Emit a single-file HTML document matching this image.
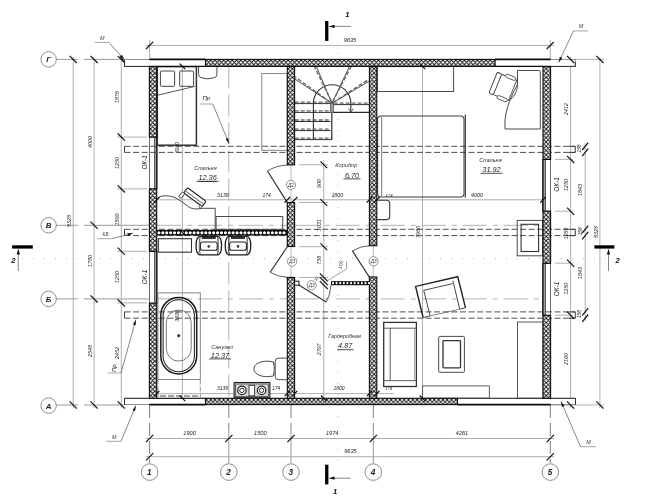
<!DOCTYPE html>
<html><head><meta charset="utf-8"><title>Plan</title>
<style>
html,body{margin:0;padding:0;background:#fff;}
body{width:669px;height:502px;overflow:hidden;font-family:"Liberation Sans",sans-serif;}
svg{display:block;font-family:"Liberation Sans",sans-serif;}
</style></head><body>
<svg width="669" height="502" viewBox="0 0 669 502" style="filter:grayscale(1)">
<defs>
<pattern id="h" width="4.3" height="4.3" patternUnits="userSpaceOnUse">
<rect width="4.3" height="4.3" fill="#fff"/>
<path d="M-1,-1 L5.3,5.3 M5.3,-1 L-1,5.3 M-1,3.3 L1,5.3 M3.3,-1 L5.3,1 M-1,1 L1,-1 M3.3,5.3 L5.3,3.3" stroke="#111" stroke-width="0.95" fill="none"/>
</pattern>
<pattern id="h2" width="3.2" height="3.2" patternUnits="userSpaceOnUse">
<rect width="3.2" height="3.2" fill="#fff"/>
<path d="M-1,-1 L4.2,4.2 M4.2,-1 L-1,4.2" stroke="#111" stroke-width="1.0" fill="none"/>
</pattern>
</defs>
<rect width="669" height="502" fill="#fff"/>
<line x1="56.00" y1="59.40" x2="78.00" y2="59.40" stroke="#808080" stroke-width="0.8" />
<line x1="56.00" y1="225.30" x2="78.00" y2="225.30" stroke="#808080" stroke-width="0.8" />
<line x1="56.00" y1="298.90" x2="78.00" y2="298.90" stroke="#808080" stroke-width="0.8" />
<line x1="56.00" y1="405.00" x2="78.00" y2="405.00" stroke="#808080" stroke-width="0.8" />
<line x1="84.00" y1="59.40" x2="124.00" y2="59.40" stroke="#808080" stroke-width="0.8" />
<line x1="84.00" y1="405.00" x2="124.50" y2="405.00" stroke="#808080" stroke-width="0.8" />
<line x1="84.00" y1="225.30" x2="149.00" y2="225.30" stroke="#808080" stroke-width="0.8" />
<line x1="157.00" y1="225.30" x2="287.30" y2="225.30" stroke="#aaaaaa" stroke-width="0.9" stroke-dasharray="24 6 5 6"/>
<line x1="294.60" y1="225.30" x2="369.40" y2="225.30" stroke="#aaaaaa" stroke-width="0.9" stroke-dasharray="24 6 5 6"/>
<line x1="380.80" y1="225.30" x2="543.00" y2="225.30" stroke="#aaaaaa" stroke-width="0.9" stroke-dasharray="24 6 5 6"/>
<line x1="84.00" y1="298.90" x2="149.00" y2="298.90" stroke="#808080" stroke-width="0.8" />
<line x1="157.00" y1="298.90" x2="287.30" y2="298.90" stroke="#aaaaaa" stroke-width="0.9" stroke-dasharray="24 6 5 6"/>
<line x1="294.60" y1="298.90" x2="369.40" y2="298.90" stroke="#aaaaaa" stroke-width="0.9" stroke-dasharray="24 6 5 6"/>
<line x1="380.80" y1="298.90" x2="543.00" y2="298.90" stroke="#aaaaaa" stroke-width="0.9" stroke-dasharray="24 6 5 6"/>
<line x1="149.60" y1="405.00" x2="149.60" y2="463.00" stroke="#808080" stroke-width="1.0" stroke-dasharray="13 5"/>
<line x1="149.60" y1="40.00" x2="149.60" y2="59.00" stroke="#a6a6a6" stroke-width="0.9" />
<line x1="550.30" y1="405.00" x2="550.30" y2="463.00" stroke="#808080" stroke-width="1.0" stroke-dasharray="13 5"/>
<line x1="550.30" y1="40.00" x2="550.30" y2="59.00" stroke="#a6a6a6" stroke-width="0.9" />
<line x1="228.80" y1="66.40" x2="228.80" y2="398.00" stroke="#aaaaaa" stroke-width="0.9" stroke-dasharray="22 6"/>
<line x1="228.80" y1="405.00" x2="228.80" y2="430.00" stroke="#808080" stroke-width="1.0" stroke-dasharray="13 5"/>
<line x1="228.80" y1="430.00" x2="228.80" y2="463.00" stroke="#808080" stroke-width="0.8" />
<line x1="291.00" y1="405.00" x2="291.00" y2="430.00" stroke="#808080" stroke-width="1.0" stroke-dasharray="13 5"/>
<line x1="291.00" y1="430.00" x2="291.00" y2="463.00" stroke="#808080" stroke-width="0.8" />
<line x1="291.00" y1="246.00" x2="291.00" y2="278.00" stroke="#aaaaaa" stroke-width="0.8" />
<line x1="373.30" y1="405.00" x2="373.30" y2="430.00" stroke="#808080" stroke-width="1.0" stroke-dasharray="13 5"/>
<line x1="373.30" y1="430.00" x2="373.30" y2="463.00" stroke="#808080" stroke-width="0.8" />
<line x1="373.30" y1="246.00" x2="373.30" y2="278.00" stroke="#aaaaaa" stroke-width="0.8" />
<line x1="291.00" y1="166.00" x2="291.00" y2="202.00" stroke="#aaaaaa" stroke-width="0.8" />
<line x1="22.00" y1="258.60" x2="606.00" y2="258.60" stroke="#b8b8b8" stroke-width="1.0" stroke-dasharray="1 10"/>
<line x1="338.30" y1="42.00" x2="338.30" y2="470.00" stroke="#c4c4c4" stroke-width="1.0" stroke-dasharray="1 10"/>
<line x1="73.20" y1="57.00" x2="73.20" y2="408.00" stroke="#a6a6a6" stroke-width="0.9" />
<line x1="94.10" y1="57.00" x2="94.10" y2="408.00" stroke="#a6a6a6" stroke-width="0.9" />
<line x1="121.30" y1="57.00" x2="121.30" y2="408.00" stroke="#a6a6a6" stroke-width="0.9" />
<line x1="117.00" y1="137.10" x2="147.00" y2="137.10" stroke="#a6a6a6" stroke-width="0.9" />
<line x1="117.00" y1="188.90" x2="147.00" y2="188.90" stroke="#a6a6a6" stroke-width="0.9" />
<line x1="117.00" y1="251.30" x2="147.00" y2="251.30" stroke="#a6a6a6" stroke-width="0.9" />
<line x1="117.00" y1="302.90" x2="147.00" y2="302.90" stroke="#a6a6a6" stroke-width="0.9" />
<line x1="570.60" y1="57.00" x2="570.60" y2="408.00" stroke="#a6a6a6" stroke-width="0.9" />
<line x1="599.90" y1="57.00" x2="599.90" y2="408.00" stroke="#a6a6a6" stroke-width="0.9" />
<line x1="585.20" y1="143.00" x2="585.20" y2="321.00" stroke="#a6a6a6" stroke-width="0.9" />
<line x1="575.00" y1="59.40" x2="604.00" y2="59.40" stroke="#a6a6a6" stroke-width="0.9" />
<line x1="551.00" y1="405.00" x2="604.00" y2="405.00" stroke="#a6a6a6" stroke-width="0.9" />
<line x1="555.00" y1="159.40" x2="573.00" y2="159.40" stroke="#a6a6a6" stroke-width="0.9" />
<line x1="555.00" y1="211.20" x2="573.00" y2="211.20" stroke="#a6a6a6" stroke-width="0.9" />
<line x1="555.00" y1="263.20" x2="573.00" y2="263.20" stroke="#a6a6a6" stroke-width="0.9" />
<line x1="555.00" y1="315.20" x2="573.00" y2="315.20" stroke="#a6a6a6" stroke-width="0.9" />
<line x1="146.00" y1="45.40" x2="554.00" y2="45.40" stroke="#a6a6a6" stroke-width="0.9" />
<line x1="146.00" y1="438.50" x2="554.00" y2="438.50" stroke="#a6a6a6" stroke-width="0.9" />
<line x1="146.00" y1="456.70" x2="554.00" y2="456.70" stroke="#a6a6a6" stroke-width="0.9" />
<line x1="182.40" y1="66.40" x2="182.40" y2="398.30" stroke="#a6a6a6" stroke-width="0.9" />
<line x1="422.50" y1="66.40" x2="422.50" y2="398.30" stroke="#a6a6a6" stroke-width="0.9" />
<line x1="323.80" y1="160.00" x2="323.80" y2="398.30" stroke="#a6a6a6" stroke-width="0.9" />
<line x1="156.70" y1="199.80" x2="543.00" y2="199.80" stroke="#a6a6a6" stroke-width="0.9" />
<line x1="156.70" y1="393.60" x2="394.00" y2="393.60" stroke="#a6a6a6" stroke-width="0.9" />
<line x1="299.00" y1="164.80" x2="328.00" y2="164.80" stroke="#a6a6a6" stroke-width="0.9" />
<line x1="299.00" y1="202.50" x2="328.00" y2="202.50" stroke="#a6a6a6" stroke-width="0.9" />
<line x1="299.00" y1="246.70" x2="328.00" y2="246.70" stroke="#a6a6a6" stroke-width="0.9" />
<line x1="299.00" y1="277.40" x2="328.00" y2="277.40" stroke="#a6a6a6" stroke-width="0.9" />
<rect x="149.40" y="137.10" width="7.30" height="51.80" stroke="#444" stroke-width="0.8" fill="#fff" />
<rect x="154.50" y="137.10" width="2.20" height="51.80" stroke="#444" stroke-width="0.8" fill="#9a9a9a" />
<line x1="156.90" y1="137.10" x2="156.90" y2="188.90" stroke="#111" stroke-width="1.2" />
<rect x="149.40" y="251.40" width="7.30" height="51.80" stroke="#444" stroke-width="0.8" fill="#fff" />
<rect x="154.50" y="251.40" width="2.20" height="51.80" stroke="#444" stroke-width="0.8" fill="#9a9a9a" />
<line x1="156.90" y1="251.40" x2="156.90" y2="303.20" stroke="#111" stroke-width="1.2" />
<rect x="543.00" y="159.40" width="7.60" height="51.80" stroke="#444" stroke-width="0.8" fill="#fff" />
<rect x="543.00" y="159.40" width="2.60" height="51.80" stroke="#444" stroke-width="0.8" fill="#9a9a9a" />
<line x1="542.80" y1="159.40" x2="542.80" y2="211.20" stroke="#111" stroke-width="1.2" />
<rect x="543.00" y="263.30" width="7.60" height="52.00" stroke="#444" stroke-width="0.8" fill="#fff" />
<rect x="543.00" y="263.30" width="2.60" height="52.00" stroke="#444" stroke-width="0.8" fill="#9a9a9a" />
<line x1="542.80" y1="263.30" x2="542.80" y2="315.30" stroke="#111" stroke-width="1.2" />
<line x1="124.50" y1="146.30" x2="575.30" y2="146.30" stroke="#505050" stroke-width="1.0" stroke-dasharray="6 2.6"/>
<line x1="124.50" y1="152.40" x2="575.30" y2="152.40" stroke="#505050" stroke-width="1.0" stroke-dasharray="6 2.6"/>
<line x1="124.50" y1="146.30" x2="124.50" y2="152.40" stroke="#3c3c3c" stroke-width="1.0" />
<line x1="575.30" y1="146.30" x2="575.30" y2="152.40" stroke="#3c3c3c" stroke-width="1.0" />
<line x1="569.00" y1="146.30" x2="575.30" y2="146.30" stroke="#3c3c3c" stroke-width="1.0" />
<line x1="569.00" y1="152.40" x2="575.30" y2="152.40" stroke="#3c3c3c" stroke-width="1.0" />
<line x1="124.50" y1="229.30" x2="575.30" y2="229.30" stroke="#505050" stroke-width="1.0" stroke-dasharray="6 2.6"/>
<line x1="124.50" y1="235.60" x2="575.30" y2="235.60" stroke="#505050" stroke-width="1.0" stroke-dasharray="6 2.6"/>
<line x1="124.50" y1="229.30" x2="124.50" y2="235.60" stroke="#3c3c3c" stroke-width="1.0" />
<line x1="575.30" y1="229.30" x2="575.30" y2="235.60" stroke="#3c3c3c" stroke-width="1.0" />
<line x1="569.00" y1="229.30" x2="575.30" y2="229.30" stroke="#3c3c3c" stroke-width="1.0" />
<line x1="569.00" y1="235.60" x2="575.30" y2="235.60" stroke="#3c3c3c" stroke-width="1.0" />
<line x1="124.50" y1="311.90" x2="575.30" y2="311.90" stroke="#505050" stroke-width="1.0" stroke-dasharray="6 2.6"/>
<line x1="124.50" y1="318.20" x2="575.30" y2="318.20" stroke="#505050" stroke-width="1.0" stroke-dasharray="6 2.6"/>
<line x1="124.50" y1="311.90" x2="124.50" y2="318.20" stroke="#3c3c3c" stroke-width="1.0" />
<line x1="575.30" y1="311.90" x2="575.30" y2="318.20" stroke="#3c3c3c" stroke-width="1.0" />
<line x1="569.00" y1="311.90" x2="575.30" y2="311.90" stroke="#3c3c3c" stroke-width="1.0" />
<line x1="569.00" y1="318.20" x2="575.30" y2="318.20" stroke="#3c3c3c" stroke-width="1.0" />
<rect x="157.30" y="66.60" width="39.10" height="78.60" stroke="#333" stroke-width="1.5" fill="none" />
<rect x="160.40" y="71.00" width="14.20" height="15.30" stroke="#444" stroke-width="1.0" fill="none" rx="1"/>
<rect x="179.70" y="71.00" width="13.90" height="15.30" stroke="#444" stroke-width="1.0" fill="none" rx="1"/>
<line x1="157.70" y1="95.20" x2="194.80" y2="86.40" stroke="#444" stroke-width="0.9" />
<path d="M198.6,67 V74.5 Q198.6,77 201,77.6 Q207.7,80.2 214.5,77.6 Q216.9,77 216.9,74.5 V67" stroke="#4a4a4a" stroke-width="1.0" fill="none" />
<rect x="261.80" y="73.60" width="25.50" height="76.70" stroke="#7a7a7a" stroke-width="0.9" fill="none" />
<path d="M157.0,199.4 L159.7,196.6 C163,195.4 170,195.6 174,197.2 C180,199.8 184,203.5 188.5,206.7 C191,208.4 194,209.2 198,208.9 L202.1,208.3 H215.2 V229.4" stroke="#4a4a4a" stroke-width="1.0" fill="none" />
<g transform="translate(194.9,197.1) rotate(36.3)">
<rect x="-11.50" y="-3.20" width="23.00" height="6.40" stroke="#2a2a2a" stroke-width="1.2" fill="#fff" rx="1.4"/>
<line x1="-10.50" y1="0.60" x2="11.50" y2="0.60" stroke="#444" stroke-width="0.8" />
<rect x="-13.40" y="3.20" width="3.20" height="6.20" stroke="#333" stroke-width="0.9" fill="#fff" rx="1.0"/>
<rect x="9.00" y="3.20" width="2.20" height="2.40" stroke="#333" stroke-width="0.8" fill="#fff" rx="0.8"/>
</g>
<rect x="216.10" y="216.50" width="66.60" height="12.90" stroke="#4a4a4a" stroke-width="1.0" fill="none" />
<rect x="158.30" y="238.70" width="33.20" height="13.50" stroke="#333" stroke-width="1.1" fill="none" />
<path d="M199.80,236.30 H217.80 C222.80,237.30 222.80,253.90 217.80,254.90 H199.80 C194.80,253.90 194.80,237.30 199.80,236.30 Z" stroke="#1a1a1a" stroke-width="1.3" fill="none" />
<path d="M200.30,236.30 C198.80,242.60 198.80,248.60 200.30,254.90" stroke="#333" stroke-width="0.8" fill="none" />
<path d="M217.30,236.30 C218.80,242.60 218.80,248.60 217.30,254.90" stroke="#333" stroke-width="0.8" fill="none" />
<rect x="200.40" y="242.00" width="16.80" height="8.20" stroke="#222" stroke-width="1.1" fill="none" rx="2"/>
<line x1="201.80" y1="238.00" x2="215.80" y2="238.00" stroke="#111" stroke-width="1.7" />
<line x1="200.40" y1="241.30" x2="198.30" y2="237.60" stroke="#444" stroke-width="0.6" />
<line x1="217.20" y1="241.30" x2="219.30" y2="237.60" stroke="#444" stroke-width="0.6" />
<line x1="200.40" y1="249.60" x2="198.30" y2="253.10" stroke="#444" stroke-width="0.6" />
<line x1="217.20" y1="249.60" x2="219.30" y2="253.10" stroke="#444" stroke-width="0.6" />
<circle cx="208.80" cy="246.40" r="1.1" stroke="#333" stroke-width="0.6" fill="#444"/>
<path d="M229.00,236.30 H247.00 C252.00,237.30 252.00,253.90 247.00,254.90 H229.00 C224.00,253.90 224.00,237.30 229.00,236.30 Z" stroke="#1a1a1a" stroke-width="1.3" fill="none" />
<path d="M229.50,236.30 C228.00,242.60 228.00,248.60 229.50,254.90" stroke="#333" stroke-width="0.8" fill="none" />
<path d="M246.50,236.30 C248.00,242.60 248.00,248.60 246.50,254.90" stroke="#333" stroke-width="0.8" fill="none" />
<rect x="229.60" y="242.00" width="16.80" height="8.20" stroke="#222" stroke-width="1.1" fill="none" rx="2"/>
<line x1="231.00" y1="238.00" x2="245.00" y2="238.00" stroke="#111" stroke-width="1.7" />
<line x1="229.60" y1="241.30" x2="227.50" y2="237.60" stroke="#444" stroke-width="0.6" />
<line x1="246.40" y1="241.30" x2="248.50" y2="237.60" stroke="#444" stroke-width="0.6" />
<line x1="229.60" y1="249.60" x2="227.50" y2="253.10" stroke="#444" stroke-width="0.6" />
<line x1="246.40" y1="249.60" x2="248.50" y2="253.10" stroke="#444" stroke-width="0.6" />
<circle cx="238.00" cy="246.40" r="1.1" stroke="#333" stroke-width="0.6" fill="#444"/>
<rect x="157.90" y="292.90" width="42.40" height="86.60" stroke="#7a7a7a" stroke-width="0.9" fill="none" />
<path d="M157.9,379.5 V397.5 M200.3,379.5 V397.5" stroke="#7a7a7a" stroke-width="0.8" fill="none" stroke-dasharray="5 2"/>
<line x1="160.00" y1="396.00" x2="200.00" y2="396.00" stroke="#444" stroke-width="1.0" stroke-dasharray="6 2"/>
<rect x="160.80" y="297.40" width="35.90" height="76.60" stroke="#1a1a1a" stroke-width="1.5" fill="none" rx="17.9"/>
<rect x="163.10" y="299.70" width="31.30" height="72.00" stroke="#2a2a2a" stroke-width="1.1" fill="none" rx="15.6"/>
<rect x="166.30" y="310.10" width="24.90" height="51.00" stroke="#555" stroke-width="0.8" fill="none" rx="12.4"/>
<circle cx="178.70" cy="335.70" r="1.2" stroke="#222" stroke-width="0.5" fill="#222"/>
<path d="M287,358.1 H278.5 Q275.2,358.1 275.2,361.5 V376.3 Q275.2,379.7 278.5,379.7 H287" stroke="#4a4a4a" stroke-width="1.0" fill="none" />
<path d="M273.3,361.8 C262,359.5 253.9,363.5 253.9,368.9 C253.9,374.3 262,378.3 273.3,376 C274.6,371 274.6,366.8 273.3,361.8 Z" stroke="#4a4a4a" stroke-width="1.0" fill="none" />
<line x1="273.30" y1="364.00" x2="275.20" y2="364.00" stroke="#4a4a4a" stroke-width="0.8" />
<line x1="273.30" y1="374.00" x2="275.20" y2="374.00" stroke="#4a4a4a" stroke-width="0.8" />
<rect x="234.10" y="382.50" width="35.80" height="15.30" stroke="#222" stroke-width="1.1" fill="#d4d4d4" />
<rect x="235.60" y="384.00" width="32.80" height="12.60" stroke="#444" stroke-width="0.8" fill="none" />
<circle cx="241.90" cy="390.40" r="4.2" stroke="#222" stroke-width="1.2" fill="#fff"/>
<circle cx="241.90" cy="390.40" r="2.2" stroke="#333" stroke-width="1.0" fill="#fff"/>
<circle cx="261.60" cy="390.40" r="4.2" stroke="#222" stroke-width="1.2" fill="#fff"/>
<circle cx="261.60" cy="390.40" r="2.2" stroke="#333" stroke-width="1.0" fill="#fff"/>
<rect x="249.00" y="385.30" width="5.60" height="10.50" stroke="#333" stroke-width="0.9" fill="#fff" />
<line x1="332.00" y1="103.40" x2="294.70" y2="78.90" stroke="#333" stroke-width="0.9" />
<line x1="332.00" y1="103.40" x2="316.40" y2="66.70" stroke="#333" stroke-width="0.9" />
<line x1="332.00" y1="103.40" x2="349.30" y2="66.70" stroke="#333" stroke-width="0.9" />
<line x1="332.00" y1="103.40" x2="368.90" y2="81.20" stroke="#333" stroke-width="0.9" />
<line x1="330.50" y1="102.20" x2="295.20" y2="77.00" stroke="#666" stroke-width="1.3" stroke-dasharray="4 2"/>
<line x1="331.40" y1="101.60" x2="314.60" y2="66.90" stroke="#666" stroke-width="1.3" stroke-dasharray="4 2"/>
<line x1="332.60" y1="101.60" x2="351.00" y2="66.90" stroke="#666" stroke-width="1.3" stroke-dasharray="4 2"/>
<line x1="333.50" y1="102.20" x2="368.60" y2="79.40" stroke="#666" stroke-width="1.3" stroke-dasharray="4 2"/>
<line x1="294.70" y1="103.60" x2="330.60" y2="103.60" stroke="#333" stroke-width="1.0" />
<line x1="294.70" y1="102.10" x2="330.60" y2="102.10" stroke="#666" stroke-width="1.3" stroke-dasharray="4 2"/>
<line x1="294.70" y1="112.40" x2="330.60" y2="112.40" stroke="#333" stroke-width="1.0" />
<line x1="294.70" y1="110.90" x2="330.60" y2="110.90" stroke="#666" stroke-width="1.3" stroke-dasharray="4 2"/>
<line x1="294.70" y1="121.50" x2="330.60" y2="121.50" stroke="#333" stroke-width="1.0" />
<line x1="294.70" y1="120.00" x2="330.60" y2="120.00" stroke="#666" stroke-width="1.3" stroke-dasharray="4 2"/>
<line x1="294.70" y1="130.60" x2="330.60" y2="130.60" stroke="#333" stroke-width="1.0" />
<line x1="294.70" y1="129.10" x2="330.60" y2="129.10" stroke="#666" stroke-width="1.3" stroke-dasharray="4 2"/>
<line x1="294.70" y1="139.60" x2="332.20" y2="139.60" stroke="#333" stroke-width="1.0" />
<line x1="294.70" y1="138.10" x2="332.20" y2="138.10" stroke="#666" stroke-width="1.3" stroke-dasharray="4 2"/>
<line x1="333.60" y1="104.60" x2="369.30" y2="104.60" stroke="#333" stroke-width="1.0" />
<line x1="333.60" y1="103.10" x2="369.30" y2="103.10" stroke="#666" stroke-width="1.3" stroke-dasharray="4 2"/>
<line x1="331.80" y1="112.40" x2="369.30" y2="112.40" stroke="#2a2a2a" stroke-width="1.1" />
<line x1="331.80" y1="112.40" x2="331.80" y2="139.60" stroke="#2a2a2a" stroke-width="1.2" />
<rect x="330.50" y="103.20" width="2.90" height="9.20" stroke="#555" stroke-width="0.8" fill="#999" />
<path d="M313.4,139.6 V103.4 A18.7,18.7 0 0 1 350.8,103.4 V112" stroke="#333" stroke-width="1.1" fill="none" />
<path d="M348.6,108.6 L350.9,112.2 L353.2,108.6" stroke="#4a4a4a" stroke-width="0.9" fill="none" />
<rect x="377.40" y="66.60" width="76.20" height="24.90" stroke="#4a4a4a" stroke-width="1.0" fill="none" />
<rect x="377.60" y="116.00" width="86.40" height="80.90" stroke="#3c3c3c" stroke-width="1.05" fill="none" rx="3.5"/>
<line x1="381.70" y1="117.00" x2="381.70" y2="196.00" stroke="#555" stroke-width="0.8" />
<line x1="465.30" y1="114.50" x2="465.30" y2="197.80" stroke="#2a2a2a" stroke-width="1.1" />
<path d="M377.2,200.2 H386.7 Q389.7,200.2 389.7,203.2 V216.6 Q389.7,219.6 386.7,219.6 H377.2" stroke="#3a3a3a" stroke-width="1.1" fill="none" />
<path d="M517.5,70.5 H539.3 Q540.3,70.5 540.3,71.5 V129 H505.1 C503.8,115 508.5,100.5 517.5,84.5 Z" stroke="#4a4a4a" stroke-width="1.0" fill="none" />
<g transform="translate(504.7,87.3) rotate(22)">
<rect x="-12.50" y="-11.30" width="4.80" height="22.60" stroke="#333" stroke-width="0.9" fill="none" rx="1.6"/>
<path d="M-7.7,-11 H8.5 M-7.7,11 H8.5" stroke="#4a4a4a" stroke-width="0.9" fill="none" />
<path d="M8.5,-11 C13.5,-5 13.5,5 8.5,11" stroke="#4a4a4a" stroke-width="0.9" fill="none" />
<line x1="8.50" y1="-11.00" x2="8.50" y2="11.00" stroke="#4a4a4a" stroke-width="0.8" />
<rect x="-3.50" y="-13.20" width="10.70" height="3.40" stroke="#444" stroke-width="0.8" fill="#fff" rx="1.7"/>
<rect x="-3.50" y="9.80" width="10.70" height="3.40" stroke="#444" stroke-width="0.8" fill="#fff" rx="1.7"/>
</g>
<rect x="517.20" y="220.40" width="25.40" height="35.40" stroke="#4a4a4a" stroke-width="1.0" fill="none" />
<rect x="521.10" y="224.30" width="17.50" height="27.20" stroke="#333" stroke-width="1.1" fill="none" />
<path d="M423.1,317.5 L415.6,286.4 L457.7,276.7 L465.5,307.8" stroke="#222" stroke-width="1.4" fill="none" />
<path d="M465.5,307.8 L459.7,309.2 L452.9,280.6 M423.1,317.5 L430.1,315.9 L423.7,290.3 L452.9,283.6" stroke="#4a4a4a" stroke-width="1.0" fill="none" />
<line x1="430.10" y1="315.90" x2="459.70" y2="309.20" stroke="#666" stroke-width="0.8" />
<rect x="383.70" y="322.40" width="32.70" height="64.10" stroke="#333" stroke-width="1.3" fill="none" />
<line x1="383.70" y1="328.20" x2="416.40" y2="328.20" stroke="#4a4a4a" stroke-width="0.9" />
<line x1="383.70" y1="380.70" x2="416.40" y2="380.70" stroke="#4a4a4a" stroke-width="0.9" />
<line x1="390.20" y1="328.20" x2="390.20" y2="380.70" stroke="#4a4a4a" stroke-width="0.9" />
<line x1="414.60" y1="328.20" x2="414.60" y2="380.70" stroke="#7a7a7a" stroke-width="0.7" />
<rect x="438.70" y="336.40" width="25.70" height="35.90" stroke="#4a4a4a" stroke-width="1.0" fill="none" rx="1"/>
<rect x="443.00" y="340.70" width="17.50" height="27.20" stroke="#333" stroke-width="1.3" fill="none" rx="0.8"/>
<rect x="422.60" y="385.90" width="66.70" height="12.30" stroke="#4a4a4a" stroke-width="0.9" fill="none" />
<rect x="517.50" y="322.00" width="25.50" height="76.20" stroke="#4a4a4a" stroke-width="0.9" fill="none" />
<path d="M287.2,202.4 L267.4,171.0" stroke="#2e2e2e" stroke-width="1.15" fill="none" />
<path d="M267.4,171.0 Q276,165.5 287.3,165.0" stroke="#4a4a4a" stroke-width="0.9" fill="none" />
<path d="M287.3,246.7 L270.2,272.3" stroke="#2e2e2e" stroke-width="1.15" fill="none" />
<path d="M270.2,272.3 Q278,276.8 287.3,277.4" stroke="#4a4a4a" stroke-width="0.9" fill="none" />
<path d="M298.9,285.1 L326.1,302.0" stroke="#2e2e2e" stroke-width="1.15" fill="none" />
<path d="M326.1,302.0 Q330.5,294.5 331,285.1" stroke="#4a4a4a" stroke-width="0.9" fill="none" />
<path d="M369.5,277.4 L352.4,250.9" stroke="#2e2e2e" stroke-width="1.15" fill="none" />
<path d="M352.4,250.9 Q360,246.2 369.5,245.7" stroke="#4a4a4a" stroke-width="0.9" fill="none" />
<circle cx="290.90" cy="184.90" r="4.6" stroke="#666" stroke-width="0.7" fill="#fff"/>
<text x="290.90" y="186.50" font-size="4.7" fill="#333" text-anchor="middle" font-style="italic" font-weight="normal" >Д2</text>
<circle cx="292.10" cy="261.60" r="4.6" stroke="#666" stroke-width="0.7" fill="#fff"/>
<text x="292.10" y="263.20" font-size="4.7" fill="#333" text-anchor="middle" font-style="italic" font-weight="normal" >Д3</text>
<circle cx="311.60" cy="285.20" r="4.6" stroke="#666" stroke-width="0.7" fill="#fff"/>
<text x="311.60" y="286.80" font-size="4.7" fill="#333" text-anchor="middle" font-style="italic" font-weight="normal" >Д3</text>
<circle cx="373.60" cy="261.30" r="4.6" stroke="#666" stroke-width="0.7" fill="#fff"/>
<text x="373.60" y="262.90" font-size="4.7" fill="#333" text-anchor="middle" font-style="italic" font-weight="normal" >Д3</text>
<rect x="124.50" y="59.40" width="81.00" height="7.00" stroke="#777" stroke-width="0.8" fill="#fff" />
<path d="M124.5,60 V66.4 H157" stroke="#222" stroke-width="0.9" fill="none" />
<rect x="495.00" y="59.40" width="80.30" height="7.00" stroke="#777" stroke-width="0.8" fill="#fff" />
<path d="M543,66.4 H575.3 V62" stroke="#222" stroke-width="0.9" fill="none" />
<path d="M120.6,57.2 L124.5,62 V66.4" stroke="#333" stroke-width="0.9" fill="none" />
<rect x="205.50" y="59.40" width="289.50" height="7.00" stroke="#0a0a0a" stroke-width="1.1" fill="url(#h)" />
<line x1="149.40" y1="59.40" x2="205.50" y2="59.40" stroke="#0a0a0a" stroke-width="1.6" />
<line x1="495.00" y1="59.40" x2="550.60" y2="59.40" stroke="#0a0a0a" stroke-width="1.6" />
<line x1="157.00" y1="66.40" x2="205.50" y2="66.40" stroke="#0a0a0a" stroke-width="1.2" />
<line x1="495.00" y1="66.40" x2="543.00" y2="66.40" stroke="#0a0a0a" stroke-width="1.2" />
<rect x="124.50" y="398.30" width="81.00" height="6.30" stroke="#777" stroke-width="0.8" fill="#fff" />
<path d="M149.4,398.3 H124.5 V404.6" stroke="#222" stroke-width="0.9" fill="none" />
<rect x="457.50" y="398.30" width="118.00" height="6.30" stroke="#777" stroke-width="0.8" fill="#fff" />
<path d="M457.5,398.3 H575.5 V404.6" stroke="#222" stroke-width="0.9" fill="none" />
<rect x="205.50" y="398.30" width="252.00" height="6.30" stroke="#0a0a0a" stroke-width="1.1" fill="url(#h)" />
<line x1="149.40" y1="404.60" x2="205.50" y2="404.60" stroke="#0a0a0a" stroke-width="1.8" />
<line x1="457.50" y1="404.60" x2="550.60" y2="404.60" stroke="#0a0a0a" stroke-width="1.8" />
<line x1="157.00" y1="398.30" x2="205.50" y2="398.30" stroke="#0a0a0a" stroke-width="1.0" />
<rect x="149.40" y="66.40" width="7.30" height="70.70" stroke="#0a0a0a" stroke-width="1.1" fill="url(#h)" />
<rect x="149.40" y="188.90" width="7.30" height="62.50" stroke="#0a0a0a" stroke-width="1.1" fill="url(#h)" />
<rect x="149.40" y="303.20" width="7.30" height="95.10" stroke="#0a0a0a" stroke-width="1.1" fill="url(#h)" />
<rect x="543.00" y="66.40" width="7.60" height="93.00" stroke="#0a0a0a" stroke-width="1.1" fill="url(#h)" />
<rect x="543.00" y="211.20" width="7.60" height="52.10" stroke="#0a0a0a" stroke-width="1.1" fill="url(#h)" />
<rect x="543.00" y="315.30" width="7.60" height="83.00" stroke="#0a0a0a" stroke-width="1.1" fill="url(#h)" />
<rect x="287.30" y="66.40" width="7.30" height="98.50" stroke="#0a0a0a" stroke-width="1.1" fill="url(#h)" />
<rect x="287.30" y="202.50" width="7.30" height="44.00" stroke="#0a0a0a" stroke-width="1.1" fill="url(#h)" />
<rect x="287.30" y="277.40" width="7.30" height="120.90" stroke="#0a0a0a" stroke-width="1.1" fill="url(#h)" />
<rect x="369.40" y="66.40" width="7.40" height="179.30" stroke="#0a0a0a" stroke-width="1.1" fill="url(#h)" />
<rect x="369.40" y="277.00" width="7.40" height="121.30" stroke="#0a0a0a" stroke-width="1.1" fill="url(#h)" />
<rect x="156.70" y="229.90" width="130.60" height="5.60" stroke="#0a0a0a" stroke-width="0" fill="#0a0a0a" />
<line x1="158.90" y1="232.70" x2="287.30" y2="232.70" stroke="#fff" stroke-width="3.1" stroke-dasharray="0.01 3.9" stroke-linecap="round"/>
<rect x="331.00" y="281.20" width="38.40" height="4.00" stroke="#0a0a0a" stroke-width="0" fill="#0a0a0a" />
<line x1="333.00" y1="283.20" x2="369.40" y2="283.20" stroke="#fff" stroke-width="2.2" stroke-dasharray="0.01 3.6" stroke-linecap="round"/>
<rect x="294.60" y="281.20" width="4.40" height="4.00" stroke="#111" stroke-width="1.0" fill="#fff" />
<line x1="69.60" y1="55.80" x2="76.80" y2="63.00" stroke="#111" stroke-width="1.2" />
<line x1="69.60" y1="401.40" x2="76.80" y2="408.60" stroke="#111" stroke-width="1.2" />
<line x1="90.50" y1="55.80" x2="97.70" y2="63.00" stroke="#111" stroke-width="1.2" />
<line x1="90.50" y1="221.70" x2="97.70" y2="228.90" stroke="#111" stroke-width="1.2" />
<line x1="90.50" y1="295.30" x2="97.70" y2="302.50" stroke="#111" stroke-width="1.2" />
<line x1="90.50" y1="401.40" x2="97.70" y2="408.60" stroke="#111" stroke-width="1.2" />
<line x1="117.70" y1="55.80" x2="124.90" y2="63.00" stroke="#111" stroke-width="1.2" />
<line x1="117.70" y1="133.50" x2="124.90" y2="140.70" stroke="#111" stroke-width="1.2" />
<line x1="117.70" y1="185.30" x2="124.90" y2="192.50" stroke="#111" stroke-width="1.2" />
<line x1="117.70" y1="247.70" x2="124.90" y2="254.90" stroke="#111" stroke-width="1.2" />
<line x1="117.70" y1="299.30" x2="124.90" y2="306.50" stroke="#111" stroke-width="1.2" />
<line x1="117.70" y1="401.40" x2="124.90" y2="408.60" stroke="#111" stroke-width="1.2" />
<line x1="567.00" y1="55.80" x2="574.20" y2="63.00" stroke="#111" stroke-width="1.2" />
<line x1="567.00" y1="155.80" x2="574.20" y2="163.00" stroke="#111" stroke-width="1.2" />
<line x1="567.00" y1="207.60" x2="574.20" y2="214.80" stroke="#111" stroke-width="1.2" />
<line x1="567.00" y1="259.60" x2="574.20" y2="266.80" stroke="#111" stroke-width="1.2" />
<line x1="567.00" y1="311.60" x2="574.20" y2="318.80" stroke="#111" stroke-width="1.2" />
<line x1="567.00" y1="401.40" x2="574.20" y2="408.60" stroke="#111" stroke-width="1.2" />
<line x1="596.30" y1="55.80" x2="603.50" y2="63.00" stroke="#111" stroke-width="1.2" />
<line x1="596.30" y1="401.40" x2="603.50" y2="408.60" stroke="#111" stroke-width="1.2" />
<line x1="582.20" y1="150.00" x2="588.20" y2="142.60" stroke="#111" stroke-width="1.2" />
<line x1="582.20" y1="156.10" x2="588.20" y2="148.70" stroke="#111" stroke-width="1.2" />
<line x1="582.20" y1="233.00" x2="588.20" y2="225.60" stroke="#111" stroke-width="1.2" />
<line x1="582.20" y1="239.30" x2="588.20" y2="231.90" stroke="#111" stroke-width="1.2" />
<line x1="582.20" y1="315.60" x2="588.20" y2="308.20" stroke="#111" stroke-width="1.2" />
<line x1="582.20" y1="321.90" x2="588.20" y2="314.50" stroke="#111" stroke-width="1.2" />
<line x1="146.00" y1="49.00" x2="153.20" y2="41.80" stroke="#111" stroke-width="1.2" />
<line x1="546.70" y1="49.00" x2="553.90" y2="41.80" stroke="#111" stroke-width="1.2" />
<line x1="146.00" y1="442.10" x2="153.20" y2="434.90" stroke="#111" stroke-width="1.2" />
<line x1="225.20" y1="442.10" x2="232.40" y2="434.90" stroke="#111" stroke-width="1.2" />
<line x1="287.40" y1="442.10" x2="294.60" y2="434.90" stroke="#111" stroke-width="1.2" />
<line x1="369.70" y1="442.10" x2="376.90" y2="434.90" stroke="#111" stroke-width="1.2" />
<line x1="546.70" y1="442.10" x2="553.90" y2="434.90" stroke="#111" stroke-width="1.2" />
<line x1="146.00" y1="460.30" x2="153.20" y2="453.10" stroke="#111" stroke-width="1.2" />
<line x1="546.70" y1="460.30" x2="553.90" y2="453.10" stroke="#111" stroke-width="1.2" />
<line x1="179.60" y1="63.60" x2="185.20" y2="69.20" stroke="#111" stroke-width="1.2" />
<line x1="179.60" y1="229.70" x2="185.20" y2="235.30" stroke="#111" stroke-width="1.2" />
<line x1="179.60" y1="395.50" x2="185.20" y2="401.10" stroke="#111" stroke-width="1.2" />
<line x1="419.70" y1="63.60" x2="425.30" y2="69.20" stroke="#111" stroke-width="1.2" />
<line x1="419.70" y1="395.50" x2="425.30" y2="401.10" stroke="#111" stroke-width="1.2" />
<line x1="320.40" y1="161.40" x2="327.20" y2="168.20" stroke="#111" stroke-width="1.2" />
<line x1="320.40" y1="199.10" x2="327.20" y2="205.90" stroke="#111" stroke-width="1.2" />
<line x1="320.40" y1="243.30" x2="327.20" y2="250.10" stroke="#111" stroke-width="1.2" />
<line x1="321.00" y1="395.50" x2="326.60" y2="401.10" stroke="#111" stroke-width="1.2" />
<line x1="319.80" y1="273.40" x2="327.80" y2="281.40" stroke="#111" stroke-width="1.2" />
<line x1="319.80" y1="277.20" x2="327.80" y2="285.20" stroke="#111" stroke-width="1.2" />
<line x1="319.80" y1="281.20" x2="327.80" y2="289.20" stroke="#111" stroke-width="1.2" />
<line x1="153.90" y1="202.60" x2="159.50" y2="197.00" stroke="#111" stroke-width="1.2" />
<line x1="284.50" y1="202.60" x2="290.10" y2="197.00" stroke="#111" stroke-width="1.2" />
<line x1="291.80" y1="202.60" x2="297.40" y2="197.00" stroke="#111" stroke-width="1.2" />
<line x1="366.60" y1="202.60" x2="372.20" y2="197.00" stroke="#111" stroke-width="1.2" />
<line x1="374.00" y1="202.60" x2="379.60" y2="197.00" stroke="#111" stroke-width="1.2" />
<line x1="154.10" y1="396.20" x2="159.30" y2="391.00" stroke="#111" stroke-width="1.2" />
<line x1="284.70" y1="396.20" x2="289.90" y2="391.00" stroke="#111" stroke-width="1.2" />
<line x1="292.00" y1="396.20" x2="297.20" y2="391.00" stroke="#111" stroke-width="1.2" />
<line x1="366.80" y1="396.20" x2="372.00" y2="391.00" stroke="#111" stroke-width="1.2" />
<line x1="374.20" y1="396.20" x2="379.40" y2="391.00" stroke="#111" stroke-width="1.2" />
<line x1="540.20" y1="202.60" x2="545.80" y2="197.00" stroke="#111" stroke-width="1.2" />
<text x="68.60" y="221.00" font-size="5.3" fill="#222" text-anchor="middle" font-style="italic" font-weight="normal" transform="rotate(-90 68.60 221.00)" dominant-baseline="central">8328</text>
<text x="89.60" y="142.00" font-size="5.3" fill="#222" text-anchor="middle" font-style="italic" font-weight="normal" transform="rotate(-90 89.60 142.00)" dominant-baseline="central">4000</text>
<text x="89.60" y="261.00" font-size="5.3" fill="#222" text-anchor="middle" font-style="italic" font-weight="normal" transform="rotate(-90 89.60 261.00)" dominant-baseline="central">1780</text>
<text x="89.60" y="351.00" font-size="5.3" fill="#222" text-anchor="middle" font-style="italic" font-weight="normal" transform="rotate(-90 89.60 351.00)" dominant-baseline="central">2548</text>
<text x="116.60" y="97.00" font-size="5.3" fill="#222" text-anchor="middle" font-style="italic" font-weight="normal" transform="rotate(-90 116.60 97.00)" dominant-baseline="central">1876</text>
<text x="116.60" y="163.00" font-size="5.3" fill="#222" text-anchor="middle" font-style="italic" font-weight="normal" transform="rotate(-90 116.60 163.00)" dominant-baseline="central">1250</text>
<text x="116.60" y="219.50" font-size="5.3" fill="#222" text-anchor="middle" font-style="italic" font-weight="normal" transform="rotate(-90 116.60 219.50)" dominant-baseline="central">1500</text>
<text x="116.60" y="277.00" font-size="5.3" fill="#222" text-anchor="middle" font-style="italic" font-weight="normal" transform="rotate(-90 116.60 277.00)" dominant-baseline="central">1250</text>
<text x="116.60" y="353.00" font-size="5.3" fill="#222" text-anchor="middle" font-style="italic" font-weight="normal" transform="rotate(-90 116.60 353.00)" dominant-baseline="central">2452</text>
<text x="566.00" y="109.00" font-size="5.3" fill="#222" text-anchor="middle" font-style="italic" font-weight="normal" transform="rotate(-90 566.00 109.00)" dominant-baseline="central">2412</text>
<text x="566.00" y="185.00" font-size="5.3" fill="#222" text-anchor="middle" font-style="italic" font-weight="normal" transform="rotate(-90 566.00 185.00)" dominant-baseline="central">1250</text>
<text x="566.20" y="233.40" font-size="5.3" fill="#222" text-anchor="middle" font-style="italic" font-weight="normal" transform="rotate(-90 566.20 233.40)" dominant-baseline="central">1256</text>
<text x="566.00" y="288.60" font-size="5.3" fill="#222" text-anchor="middle" font-style="italic" font-weight="normal" transform="rotate(-90 566.00 288.60)" dominant-baseline="central">1250</text>
<text x="566.00" y="359.00" font-size="5.3" fill="#222" text-anchor="middle" font-style="italic" font-weight="normal" transform="rotate(-90 566.00 359.00)" dominant-baseline="central">2160</text>
<text x="580.40" y="190.00" font-size="5.3" fill="#222" text-anchor="middle" font-style="italic" font-weight="normal" transform="rotate(-90 580.40 190.00)" dominant-baseline="central">1843</text>
<text x="580.40" y="273.00" font-size="5.3" fill="#222" text-anchor="middle" font-style="italic" font-weight="normal" transform="rotate(-90 580.40 273.00)" dominant-baseline="central">1843</text>
<text x="579.60" y="148.50" font-size="4.8" fill="#222" text-anchor="middle" font-style="italic" font-weight="normal" transform="rotate(-90 579.60 148.50)" dominant-baseline="central">158</text>
<text x="580.20" y="231.30" font-size="4.8" fill="#222" text-anchor="middle" font-style="italic" font-weight="normal" transform="rotate(-90 580.20 231.30)" dominant-baseline="central">158</text>
<text x="579.60" y="314.00" font-size="4.8" fill="#222" text-anchor="middle" font-style="italic" font-weight="normal" transform="rotate(-90 579.60 314.00)" dominant-baseline="central">158</text>
<text x="595.60" y="232.00" font-size="5.3" fill="#222" text-anchor="middle" font-style="italic" font-weight="normal" transform="rotate(-90 595.60 232.00)" dominant-baseline="central">8328</text>
<text x="189.60" y="435.20" font-size="5.6" fill="#222" text-anchor="middle" font-style="italic" font-weight="normal" >1900</text>
<text x="260.30" y="435.20" font-size="5.6" fill="#222" text-anchor="middle" font-style="italic" font-weight="normal" >1500</text>
<text x="332.20" y="435.20" font-size="5.6" fill="#222" text-anchor="middle" font-style="italic" font-weight="normal" >1974</text>
<text x="462.00" y="435.20" font-size="5.6" fill="#222" text-anchor="middle" font-style="italic" font-weight="normal" >4261</text>
<text x="350.40" y="453.30" font-size="5.6" fill="#222" text-anchor="middle" font-style="italic" font-weight="normal" >9635</text>
<text x="350.00" y="42.30" font-size="5.6" fill="#222" text-anchor="middle" font-style="italic" font-weight="normal" >9635</text>
<text x="177.60" y="147.60" font-size="4.8999999999999995" fill="#222" text-anchor="middle" font-style="italic" font-weight="normal" transform="rotate(-90 177.60 147.60)" dominant-baseline="central">3930</text>
<text x="177.60" y="316.00" font-size="4.8999999999999995" fill="#222" text-anchor="middle" font-style="italic" font-weight="normal" transform="rotate(-90 177.60 316.00)" dominant-baseline="central">3930</text>
<text x="417.60" y="232.00" font-size="5.3" fill="#222" text-anchor="middle" font-style="italic" font-weight="normal" transform="rotate(-90 417.60 232.00)" dominant-baseline="central">7980</text>
<text x="318.60" y="183.60" font-size="5.3" fill="#222" text-anchor="middle" font-style="italic" font-weight="normal" transform="rotate(-90 318.60 183.60)" dominant-baseline="central">900</text>
<text x="318.60" y="225.30" font-size="5.3" fill="#222" text-anchor="middle" font-style="italic" font-weight="normal" transform="rotate(-90 318.60 225.30)" dominant-baseline="central">1031</text>
<text x="318.80" y="260.30" font-size="5.3" fill="#222" text-anchor="middle" font-style="italic" font-weight="normal" transform="rotate(-90 318.80 260.30)" dominant-baseline="central">758</text>
<text x="318.60" y="349.40" font-size="5.3" fill="#222" text-anchor="middle" font-style="italic" font-weight="normal" transform="rotate(-90 318.60 349.40)" dominant-baseline="central">2707</text>
<text x="222.90" y="197.00" font-size="5.3" fill="#222" text-anchor="middle" font-style="italic" font-weight="normal" >3139</text>
<text x="266.60" y="197.00" font-size="5.0" fill="#222" text-anchor="middle" font-style="italic" font-weight="normal" >174</text>
<text x="337.30" y="197.00" font-size="5.3" fill="#222" text-anchor="middle" font-style="italic" font-weight="normal" >1800</text>
<text x="389.00" y="197.00" font-size="4.2" fill="#222" text-anchor="middle" font-style="italic" font-weight="normal" >174</text>
<text x="477.00" y="197.00" font-size="5.3" fill="#222" text-anchor="middle" font-style="italic" font-weight="normal" >4000</text>
<text x="222.50" y="390.20" font-size="5.0" fill="#222" text-anchor="middle" font-style="italic" font-weight="normal" >3139</text>
<text x="276.30" y="390.00" font-size="4.8" fill="#222" text-anchor="middle" font-style="italic" font-weight="normal" >174</text>
<text x="339.00" y="390.00" font-size="5.0" fill="#222" text-anchor="middle" font-style="italic" font-weight="normal" >1800</text>
<text x="388.60" y="390.30" font-size="4.0" fill="#222" text-anchor="middle" font-style="italic" font-weight="normal" >174</text>
<text x="317.60" y="279.40" font-size="4.0" fill="#333" text-anchor="middle" font-style="italic" font-weight="normal" transform="rotate(-60 317.60 279.40)" >92</text>
<text x="342.60" y="265.20" font-size="5.0" fill="#333" text-anchor="middle" font-style="italic" font-weight="normal" transform="rotate(-80 342.60 265.20)" >100</text>
<path d="M326.1,281.6 L346.6,269 V261.2" stroke="#808080" stroke-width="0.7" fill="none" />
<text x="205.50" y="170.20" font-size="5.6" fill="#333" text-anchor="middle" font-style="italic" font-weight="normal" >Спальня</text>
<text x="207.60" y="180.00" font-size="7.3" fill="#222" text-anchor="middle" font-style="italic" font-weight="normal" text-decoration="underline">12.36</text>
<line x1="196.50" y1="181.30" x2="218.50" y2="181.30" stroke="#222" stroke-width="0.8" />
<text x="346.30" y="167.30" font-size="5.6" fill="#333" text-anchor="middle" font-style="italic" font-weight="normal" >Коридор</text>
<text x="352.00" y="177.60" font-size="7.3" fill="#222" text-anchor="middle" font-style="italic" font-weight="normal" >6.70</text>
<line x1="343.50" y1="178.90" x2="360.50" y2="178.90" stroke="#222" stroke-width="0.8" />
<text x="490.50" y="161.60" font-size="5.6" fill="#333" text-anchor="middle" font-style="italic" font-weight="normal" >Спальня</text>
<text x="491.50" y="172.00" font-size="7.3" fill="#222" text-anchor="middle" font-style="italic" font-weight="normal" >31.92</text>
<line x1="480.50" y1="173.30" x2="502.50" y2="173.30" stroke="#222" stroke-width="0.8" />
<text x="222.00" y="349.20" font-size="5.6" fill="#333" text-anchor="middle" font-style="italic" font-weight="normal" >Санузел</text>
<text x="220.00" y="357.60" font-size="7.3" fill="#222" text-anchor="middle" font-style="italic" font-weight="normal" >12.37</text>
<line x1="209.00" y1="358.90" x2="231.00" y2="358.90" stroke="#222" stroke-width="0.8" />
<text x="344.50" y="338.00" font-size="5.4" fill="#333" text-anchor="middle" font-style="italic" font-weight="normal" >Гардеробная</text>
<text x="345.20" y="348.40" font-size="7.3" fill="#222" text-anchor="middle" font-style="italic" font-weight="normal" >4.87</text>
<line x1="337.00" y1="349.70" x2="353.50" y2="349.70" stroke="#222" stroke-width="0.8" />
<text x="144.30" y="162.40" font-size="6.4" fill="#222" text-anchor="middle" font-style="italic" font-weight="normal" transform="rotate(-90 144.30 162.40)" dominant-baseline="central">ОК-1</text>
<text x="144.30" y="277.00" font-size="6.4" fill="#222" text-anchor="middle" font-style="italic" font-weight="normal" transform="rotate(-90 144.30 277.00)" dominant-baseline="central">ОК-1</text>
<text x="556.20" y="184.50" font-size="6.4" fill="#222" text-anchor="middle" font-style="italic" font-weight="normal" transform="rotate(-90 556.20 184.50)" dominant-baseline="central">ОК-1</text>
<text x="556.20" y="289.00" font-size="6.4" fill="#222" text-anchor="middle" font-style="italic" font-weight="normal" transform="rotate(-90 556.20 289.00)" dominant-baseline="central">ОК-1</text>
<line x1="94.60" y1="42.40" x2="108.80" y2="42.40" stroke="#808080" stroke-width="0.7" />
<line x1="108.80" y1="42.40" x2="124.40" y2="59.80" stroke="#555" stroke-width="0.7" />
<polygon points="124.40,59.80 119.69,56.64 121.77,54.77" fill="#111"/>
<text x="102.30" y="40.00" font-size="5.4" fill="#333" text-anchor="middle" font-style="italic" font-weight="normal" >М</text>
<line x1="573.50" y1="30.90" x2="588.30" y2="30.90" stroke="#808080" stroke-width="0.7" />
<line x1="573.50" y1="30.90" x2="558.70" y2="62.40" stroke="#555" stroke-width="0.7" />
<polygon points="558.70,62.40 559.77,56.83 562.31,58.02" fill="#111"/>
<text x="581.00" y="28.40" font-size="5.4" fill="#333" text-anchor="middle" font-style="italic" font-weight="normal" >М</text>
<line x1="106.30" y1="441.30" x2="121.00" y2="441.30" stroke="#808080" stroke-width="0.7" />
<line x1="121.00" y1="441.30" x2="135.90" y2="405.60" stroke="#555" stroke-width="0.7" />
<polygon points="135.90,405.60 135.07,411.21 132.49,410.14" fill="#111"/>
<text x="114.30" y="439.00" font-size="5.4" fill="#333" text-anchor="middle" font-style="italic" font-weight="normal" >М</text>
<line x1="580.50" y1="446.70" x2="596.00" y2="446.70" stroke="#808080" stroke-width="0.7" />
<line x1="580.50" y1="446.70" x2="561.10" y2="401.50" stroke="#555" stroke-width="0.7" />
<polygon points="561.10,401.50 564.56,406.00 561.98,407.11" fill="#111"/>
<text x="588.50" y="444.30" font-size="5.4" fill="#333" text-anchor="middle" font-style="italic" font-weight="normal" >М</text>
<line x1="97.30" y1="238.70" x2="111.60" y2="238.70" stroke="#808080" stroke-width="0.7" />
<line x1="111.60" y1="238.70" x2="133.00" y2="233.30" stroke="#555" stroke-width="0.7" />
<polygon points="133.00,233.30 128.01,236.00 127.32,233.29" fill="#111"/>
<text x="105.60" y="236.30" font-size="4.8" fill="#333" text-anchor="middle" font-style="italic" font-weight="normal" >КБ</text>
<line x1="199.40" y1="104.00" x2="212.80" y2="104.00" stroke="#808080" stroke-width="0.7" />
<line x1="212.80" y1="104.00" x2="229.00" y2="143.60" stroke="#555" stroke-width="0.7" />
<polygon points="229.00,143.60 225.62,139.04 228.21,137.98" fill="#111"/>
<text x="206.30" y="99.80" font-size="6" fill="#222" text-anchor="middle" font-style="italic" font-weight="normal" >Пр</text>
<line x1="107.50" y1="373.00" x2="121.00" y2="373.00" stroke="#808080" stroke-width="0.7" />
<line x1="121.00" y1="373.00" x2="135.80" y2="319.70" stroke="#555" stroke-width="0.7" />
<polygon points="135.80,319.70 135.68,325.37 132.98,324.62" fill="#111"/>
<text x="114.40" y="368.20" font-size="6" fill="#222" text-anchor="middle" font-style="italic" font-weight="normal" transform="rotate(-90 114.40 368.20)" dominant-baseline="central">Пр</text>
<rect x="325.10" y="21.00" width="3.30" height="19.90" stroke="#000" stroke-width="0" fill="#000" />
<line x1="331.00" y1="26.40" x2="350.90" y2="26.40" stroke="#666" stroke-width="0.8" />
<polygon points="328.6,26.4 334.6,24.8 334.6,28" fill="#111"/>
<text x="347.40" y="17.40" font-size="7.6" fill="#111" text-anchor="middle" font-style="italic" font-weight="bold" >1</text>
<rect x="325.10" y="464.70" width="3.30" height="19.70" stroke="#000" stroke-width="0" fill="#000" />
<line x1="331.00" y1="478.20" x2="350.40" y2="478.20" stroke="#666" stroke-width="0.8" />
<polygon points="328.6,478.2 334.6,476.6 334.6,479.8" fill="#111"/>
<text x="335.00" y="494.40" font-size="7.6" fill="#111" text-anchor="middle" font-style="italic" font-weight="bold" >1</text>
<rect x="12.10" y="245.30" width="20.70" height="3.30" stroke="#000" stroke-width="0" fill="#000" />
<line x1="18.30" y1="251.00" x2="18.30" y2="271.00" stroke="#666" stroke-width="0.8" />
<polygon points="18.3,248.6 16.7,254.6 19.9,254.6" fill="#111"/>
<text x="13.40" y="262.60" font-size="7.6" fill="#111" text-anchor="middle" font-style="italic" font-weight="bold" >2</text>
<rect x="594.40" y="245.30" width="20.00" height="3.30" stroke="#000" stroke-width="0" fill="#000" />
<line x1="608.50" y1="251.00" x2="608.50" y2="271.00" stroke="#666" stroke-width="0.8" />
<polygon points="608.5,248.6 606.9,254.6 610.1,254.6" fill="#111"/>
<text x="617.60" y="263.00" font-size="7.6" fill="#111" text-anchor="middle" font-style="italic" font-weight="bold" >2</text>
<circle cx="48.60" cy="59.40" r="7.7" stroke="#808080" stroke-width="0.9" fill="#fff"/>
<text x="48.60" y="62.30" font-size="8.0" fill="#222" text-anchor="middle" font-style="italic" font-weight="bold" >Г</text>
<circle cx="48.60" cy="225.30" r="7.7" stroke="#808080" stroke-width="0.9" fill="#fff"/>
<text x="48.60" y="228.20" font-size="8.0" fill="#222" text-anchor="middle" font-style="italic" font-weight="bold" >В</text>
<circle cx="48.60" cy="298.90" r="7.7" stroke="#808080" stroke-width="0.9" fill="#fff"/>
<text x="48.60" y="301.80" font-size="8.0" fill="#222" text-anchor="middle" font-style="italic" font-weight="bold" >Б</text>
<circle cx="48.60" cy="405.60" r="7.7" stroke="#808080" stroke-width="0.9" fill="#fff"/>
<text x="48.60" y="408.50" font-size="8.0" fill="#222" text-anchor="middle" font-style="italic" font-weight="bold" >А</text>
<circle cx="149.60" cy="472.10" r="8.3" stroke="#808080" stroke-width="0.9" fill="#fff"/>
<text x="149.40" y="475.10" font-size="8.2" fill="#222" text-anchor="middle" font-style="italic" font-weight="bold" >1</text>
<circle cx="228.80" cy="472.10" r="8.3" stroke="#808080" stroke-width="0.9" fill="#fff"/>
<text x="228.60" y="475.10" font-size="8.2" fill="#222" text-anchor="middle" font-style="italic" font-weight="bold" >2</text>
<circle cx="291.00" cy="472.10" r="8.3" stroke="#808080" stroke-width="0.9" fill="#fff"/>
<text x="290.80" y="475.10" font-size="8.2" fill="#222" text-anchor="middle" font-style="italic" font-weight="bold" >3</text>
<circle cx="373.30" cy="472.10" r="8.3" stroke="#808080" stroke-width="0.9" fill="#fff"/>
<text x="373.10" y="475.10" font-size="8.2" fill="#222" text-anchor="middle" font-style="italic" font-weight="bold" >4</text>
<circle cx="550.30" cy="472.10" r="8.3" stroke="#808080" stroke-width="0.9" fill="#fff"/>
<text x="550.10" y="475.10" font-size="8.2" fill="#222" text-anchor="middle" font-style="italic" font-weight="bold" >5</text>
</svg>
</body></html>
